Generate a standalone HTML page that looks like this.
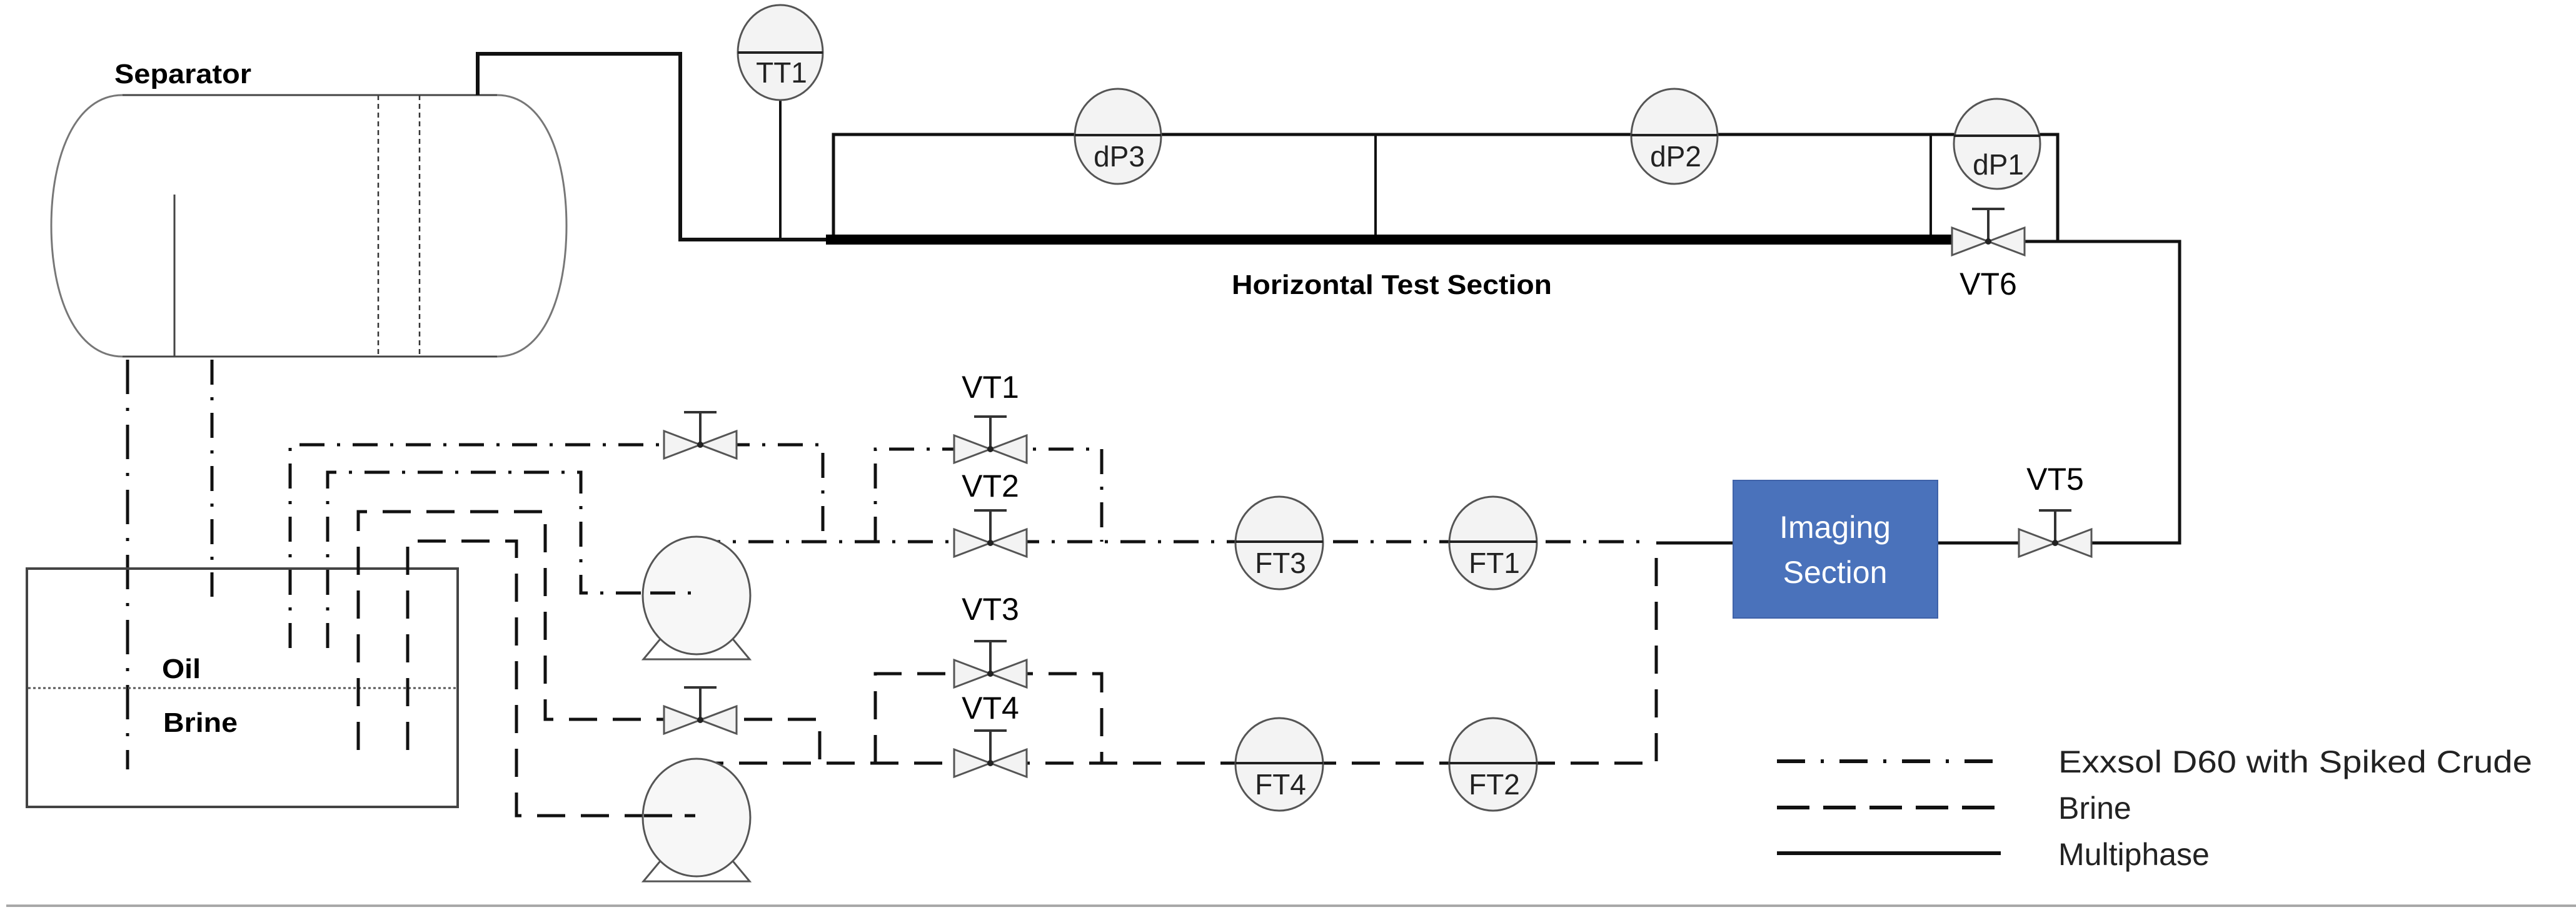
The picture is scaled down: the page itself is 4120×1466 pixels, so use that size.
<!DOCTYPE html>
<html><head><meta charset="utf-8"><style>
html,body{margin:0;padding:0;background:#fff;}
svg{display:block;}
text{font-family:"Liberation Sans",sans-serif;}
</style></head><body>
<svg width="4120" height="1466" viewBox="0 0 4120 1466" xmlns="http://www.w3.org/2000/svg">
<defs>
<g id="valve">
  <line x1="0" y1="0" x2="0" y2="-52" stroke="#333" stroke-width="4"/>
  <line x1="-26" y1="-52" x2="26" y2="-52" stroke="#333" stroke-width="4"/>
  <polygon points="-58,-22 -58,22 0,0" fill="#f3f3f3" stroke="#555" stroke-width="3"/>
  <polygon points="58,-22 58,22 0,0" fill="#f3f3f3" stroke="#555" stroke-width="3"/>
  <circle cx="0" cy="0" r="5" fill="#222"/>
</g>
<g id="pump">
  <polygon points="-50,60 50,60 85,102 -85,102" fill="#fff" stroke="#555" stroke-width="3"/>
  <ellipse cx="0" cy="0" rx="86" ry="94" fill="#f7f7f7" stroke="#555" stroke-width="3"/>
</g>
</defs>

<!-- Separator vessel -->
<path d="M196,152 L795,152 C870,152 906,250 906,361 C906,472 870,570 795,570 L196,570 C120,570 82,472 82,361 C82,250 120,152 196,152 Z" fill="#fff" stroke="#777" stroke-width="3"/>
<line x1="605" y1="152" x2="605" y2="570" stroke="#333" stroke-width="2.5" stroke-dasharray="8 6"/>
<line x1="671" y1="152" x2="671" y2="570" stroke="#333" stroke-width="2.5" stroke-dasharray="8 6"/>
<line x1="279" y1="311" x2="279" y2="570" stroke="#444" stroke-width="3"/>
<line x1="196" y1="152" x2="795" y2="152" stroke="#444" stroke-width="3"/>
<line x1="196" y1="570" x2="795" y2="570" stroke="#444" stroke-width="3"/>
<text x="183" y="133" font-size="44" font-weight="bold" textLength="219" lengthAdjust="spacingAndGlyphs">Separator</text>

<!-- Separator outlets -->
<line x1="204" y1="575" x2="204" y2="1230" stroke="#111" stroke-width="5" stroke-dasharray="55 22 5 22"/>
<line x1="339" y1="575" x2="339" y2="954" stroke="#111" stroke-width="5" stroke-dasharray="40 20 5 20"/>

<!-- Multiphase line to test section -->
<polyline points="764,152 764,86 1088,86 1088,383 1330,383" fill="none" stroke="#111" stroke-width="6"/>
<line x1="1248" y1="150" x2="1248" y2="383" stroke="#111" stroke-width="4"/>

<!-- Test section -->
<polyline points="1333,383 1333,215 3291,215 3291,386" fill="none" stroke="#111" stroke-width="5"/>
<line x1="2200" y1="215" x2="2200" y2="383" stroke="#111" stroke-width="4"/>
<line x1="3088" y1="215" x2="3088" y2="383" stroke="#111" stroke-width="4"/>
<line x1="1321" y1="383" x2="3126" y2="383" stroke="#000" stroke-width="16"/>
<polyline points="3234,386 3486,386 3486,868 3099,868" fill="none" stroke="#111" stroke-width="5"/>
<text x="2226" y="470" font-size="44" font-weight="bold" text-anchor="middle" textLength="512" lengthAdjust="spacingAndGlyphs">Horizontal Test Section</text>

<!-- Tank -->
<rect x="43" y="909" width="689" height="381" fill="none" stroke="#444" stroke-width="4"/>
<line x1="45" y1="1100" x2="730" y2="1100" stroke="#555" stroke-width="3" stroke-dasharray="4 4"/>
<text x="259" y="1084" font-size="44" font-weight="bold" textLength="62" lengthAdjust="spacingAndGlyphs">Oil</text>
<text x="261" y="1170" font-size="44" font-weight="bold" textLength="119" lengthAdjust="spacingAndGlyphs">Brine</text>

<!-- Oil (dash-dot) pipes -->
<g fill="none" stroke="#111" stroke-width="5" stroke-dasharray="40 20 5 20">
  <polyline points="464,1036 464,711 1316,711 1316,864"/>
  <line x1="1112" y1="866" x2="2626" y2="866"/>
  <polyline points="1400,866 1400,718 1762,718 1762,866"/>
  <polyline points="524,1036 524,755 929,755 929,948 1112,948"/>
</g>
<!-- Brine (dashed) pipes -->
<g fill="none" stroke="#111" stroke-width="5" stroke-dasharray="45 25">
  <polyline points="573,1199 573,818 872,818 872,1150 1311,1150 1311,1220"/>
  <polyline points="1112,1220 2649,1220 2649,868"/>
  <polyline points="1400,1220 1400,1077 1762,1077 1762,1220"/>
  <polyline points="652,1199 652,865 826,865 826,1304 1112,1304"/>
</g>
<line x1="2649" y1="868" x2="2772" y2="868" stroke="#111" stroke-width="5"/>

<!-- Pumps -->
<use href="#pump" x="1114" y="952"/>
<line x1="1040" y1="948" x2="1112" y2="948" stroke="#111" stroke-width="5" stroke-dasharray="40 20 5 20"/>
<use href="#pump" x="1114" y="1307"/>
<line x1="1030" y1="1304" x2="1112" y2="1304" stroke="#111" stroke-width="5" stroke-dasharray="45 20"/>

<!-- Valves -->
<use href="#valve" x="1120" y="711"/>
<use href="#valve" x="1120" y="1151"/>
<use href="#valve" x="1584" y="718"/>
<use href="#valve" x="1584" y="868"/>
<use href="#valve" x="1584" y="1077"/>
<use href="#valve" x="1584" y="1220"/>
<use href="#valve" x="3180" y="386"/>
<use href="#valve" x="3287" y="868"/>
<g font-size="50" text-anchor="middle">
<text x="1584" y="636">VT1</text>
<text x="1584" y="794">VT2</text>
<text x="1584" y="991">VT3</text>
<text x="1584" y="1149">VT4</text>
<text x="3180" y="471">VT6</text>
<text x="3287" y="783">VT5</text>
</g>

<!-- Instruments -->
<g stroke="#555" stroke-width="3" fill="#f3f3f3">
  <ellipse cx="1248" cy="84" rx="68" ry="76"/>
  <ellipse cx="1788" cy="218" rx="69" ry="76"/>
  <ellipse cx="2678" cy="218" rx="69" ry="76"/>
  <ellipse cx="3194" cy="230" rx="69" ry="72"/>
  <ellipse cx="2046" cy="868" rx="70" ry="74"/>
  <ellipse cx="2388" cy="868" rx="70" ry="74"/>
  <ellipse cx="2046" cy="1222" rx="70" ry="74"/>
  <ellipse cx="2388" cy="1222" rx="70" ry="74"/>
</g>
<g stroke="#222" stroke-width="4">
  <line x1="1180" y1="84" x2="1316" y2="84"/>
  <line x1="1719" y1="216" x2="1857" y2="216"/>
  <line x1="2609" y1="216" x2="2747" y2="216"/>
  <line x1="3125" y1="217" x2="3263" y2="217"/>
  <line x1="1976" y1="866" x2="2116" y2="866"/>
  <line x1="2318" y1="866" x2="2458" y2="866"/>
  <line x1="1976" y1="1220" x2="2116" y2="1220"/>
  <line x1="2318" y1="1220" x2="2458" y2="1220"/>
</g>
<g font-size="46" text-anchor="middle" fill="#222">
<text x="1250" y="132">TT1</text>
<text x="1790" y="266">dP3</text>
<text x="2680" y="266">dP2</text>
<text x="3196" y="279">dP1</text>
<text x="2048" y="916">FT3</text>
<text x="2390" y="916">FT1</text>
<text x="2048" y="1270">FT4</text>
<text x="2390" y="1270">FT2</text>
</g>

<!-- Imaging section -->
<rect x="2772" y="768" width="327" height="220" fill="#4a72bb" stroke="#3f62a8" stroke-width="2"/>
<text x="2935" y="860" font-size="50" fill="#fff" text-anchor="middle">Imaging</text>
<text x="2935" y="932" font-size="50" fill="#fff" text-anchor="middle">Section</text>

<!-- Legend -->
<line x1="2842" y1="1217" x2="3200" y2="1217" stroke="#111" stroke-width="6" stroke-dasharray="45 25 5 25"/>
<line x1="2842" y1="1291" x2="3200" y2="1291" stroke="#111" stroke-width="6" stroke-dasharray="52 22"/>
<line x1="2842" y1="1364" x2="3200" y2="1364" stroke="#111" stroke-width="6"/>
<g font-size="50" fill="#222">
<text x="3292" y="1235" textLength="758" lengthAdjust="spacingAndGlyphs">Exxsol D60 with Spiked Crude</text>
<text x="3292" y="1309">Brine</text>
<text x="3292" y="1383">Multiphase</text>
</g>

<!-- bottom rule -->
<line x1="10" y1="1448" x2="4120" y2="1448" stroke="#a8a8a8" stroke-width="4"/>
</svg>
</body></html>
